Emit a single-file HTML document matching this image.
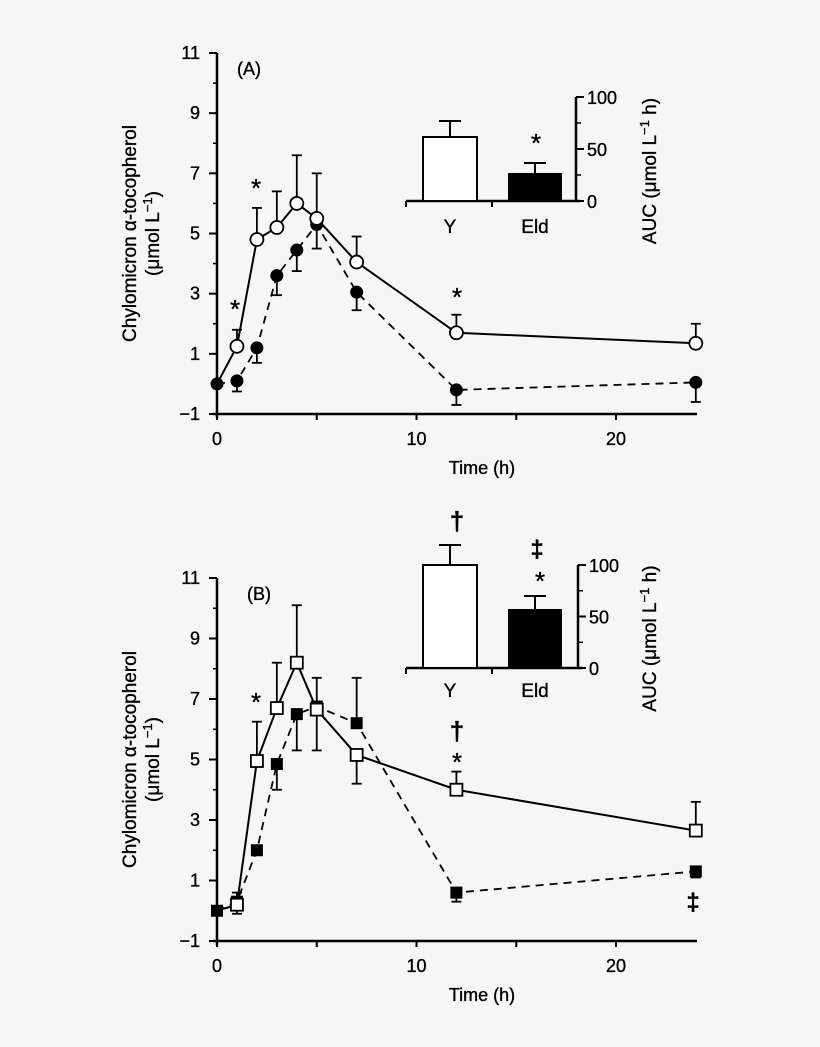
<!DOCTYPE html>
<html><head><meta charset="utf-8"><style>
html,body{margin:0;padding:0;background:#f6f6f6;}
svg{display:block;font-family:"Liberation Sans",Arial,sans-serif;}
text{stroke:#000;stroke-width:0.35;}
</style></head><body>
<svg id="s" width="820" height="1047" viewBox="0 0 820 1047" xmlns="http://www.w3.org/2000/svg"></svg>
<script>
const S=document.getElementById('s');let h='';
function L(x1,y1,x2,y2,w,d){h+=`<line x1="${x1}" y1="${y1}" x2="${x2}" y2="${y2}" stroke="#000" stroke-width="${w||2}" ${d?`stroke-dasharray="${d}"`:''}/>`;}
function T(x,y,t,sz,a,extra){h+=`<text x="${x}" y="${y}" font-size="${sz||18}" text-anchor="${a||'middle'}" ${extra||''}>${t}</text>`;}
function panel(y11,ym1,lab,open,filled,errO,errF,sq){
  const X=t=>217+t*19.95;
  const Yv=v=>ym1-(v+1)*(ym1-y11)/12;
  L(217,y11,217,ym1+4,2.5);L(213,ym1,697,ym1,2.5);
  for(let v=-1;v<=11;v+=2){L(209,Yv(v),217,Yv(v),2);T(200,Yv(v)+6,v==-1?'\u22121':v,18,'end');}
  for(let v=0;v<=11;v+=2){L(213,Yv(v),217,Yv(v),1.5);}
  [0,5,10,15,20].forEach(t=>L(X(t),ym1,X(t),ym1+6,2));
  [0,10,20].forEach(t=>T(X(t),ym1+31,t,18));
  T(482,ym1+60,'Time (h)',18);
  const cy=(y11+ym1)/2;
  h+=`<text transform="translate(136,${cy}) rotate(-90)" font-size="19" text-anchor="middle">Chylomicron α-tocopherol</text>`;
  h+=`<text transform="translate(159,${cy}) rotate(-90)" font-size="19" text-anchor="middle">(μmol L<tspan dy="-7" font-size="13">−1</tspan><tspan dy="7">)</tspan></text>`;
  T(lab[1],y11+22,lab[0],18,'start');
  const ts=[0,1,2,3,4,5,7,12,24];
  errO.forEach(([t,v,e])=>{L(X(t),Yv(v),X(t),Yv(e),1.8);L(X(t)-5,Yv(e),X(t)+5,Yv(e),1.8);});
  errF.forEach(([t,v,e])=>{L(X(t),Yv(v),X(t),Yv(e),1.8);L(X(t)-5,Yv(e),X(t)+5,Yv(e),1.8);});
  let p1=ts.map((t,i)=>X(t)+','+Yv(open[i])).join(' ');
  let p2=ts.map((t,i)=>X(t)+','+Yv(filled[i])).join(' ');
  h+=`<polyline points="${p2}" fill="none" stroke="#000" stroke-width="1.8" stroke-dasharray="8,6"/>`;
  h+=`<polyline points="${p1}" fill="none" stroke="#000" stroke-width="2"/>`;
  ts.forEach((t,i)=>{
    if(sq){h+=`<rect x="${X(t)-6}" y="${Yv(filled[i])-6}" width="12" height="12" fill="#000"/>`;
      if(i>0)h+=`<rect x="${X(t)-6}" y="${Yv(open[i])-6}" width="12" height="12" fill="#fff" stroke="#000" stroke-width="1.8"/>`;}
    else{h+=`<circle cx="${X(t)}" cy="${Yv(filled[i])}" r="6.5" fill="#000"/>`;
      if(i>0)h+=`<circle cx="${X(t)}" cy="${Yv(open[i])}" r="6.5" fill="#fff" stroke="#000" stroke-width="1.8"/>`;}
  });
}
function inset(ax,y0,y100,yTop,yErr,eTop,eErr,labY){
  L(ax,y100,ax,y0,2.5);L(406,y0,ax+4,y0,2.5);
  L(406,y0,406,y0+6,2);L(492,y0,492,y0+6,2);
  [0,50,100].forEach(v=>{const y=y0-(y0-y100)*v/100;L(ax,y,ax+8,y,2);T(ax+11,y+7,v,18,'start');});
  [25,75].forEach(v=>{const y=y0-(y0-y100)*v/100;L(ax,y,ax+5,y,1.5);});
  h+=`<rect x="423" y="${yTop}" width="54" height="${y0-yTop}" fill="#fff" stroke="#000" stroke-width="2"/>`;
  L(450,yTop,450,yErr,2);L(439,yErr,461,yErr,2);
  h+=`<rect x="508" y="${eTop}" width="54" height="${y0-eTop}" fill="#000"/>`;
  L(535,eTop,535,eErr,2);L(524,eErr,546,eErr,2);
  T(450,labY,'Y',19);T(535,labY,'Eld',19);
  h+=`<text transform="translate(656,${(y0+y100)/2+22}) rotate(-90)" font-size="19" text-anchor="middle">AUC (μmol L<tspan dy="-7" font-size="13">−1</tspan><tspan dy="7"> h)</tspan></text>`;
}
panel(53,414,['(A)',237],
 [0,1.25,4.8,5.2,6.0,5.5,4.05,1.7,1.35],
 [0,0.1,1.2,3.6,4.45,5.3,3.05,-0.2,0.05],
 [[1,1.25,1.8],[2,4.8,5.85],[3,5.2,6.4],[4,6.0,7.6],[5,5.5,7.0],[7,4.05,4.9],[12,1.7,2.3],[24,1.35,2.0]],
 [[1,0.1,-0.25],[2,1.2,0.7],[3,3.6,2.95],[4,4.45,3.75],[5,5.3,4.5],[7,3.05,2.45],[12,-0.2,-0.7],[24,0.05,-0.6]],false);
T(235,318,'*',26);T(256,197,'*',26);T(457,306,'*',26);T(536,152,'*',26);
inset(576,201,97,137,121,173,163,233);
panel(578,941,['(B)',247],
 [0,0.2,4.95,6.7,8.2,6.65,5.15,4.0,2.65],
 [0,0.3,2.0,4.85,6.5,6.75,6.2,0.6,1.3],
 [[1,0.2,0.6],[2,4.95,6.25],[3,6.7,8.2],[4,8.2,10.1],[5,6.65,5.3],[7,5.15,4.2],[12,4.0,4.6],[24,2.65,3.6]],
 [[1,0.3,-0.1],[3,4.85,4.0],[4,6.5,5.3],[5,6.75,7.7],[7,6.2,7.7],[12,0.6,0.3],[24,1.3,1.1]],true);
T(256,711,'*',26);T(457,771,'*',26);
T(457,740,'†',26,'middle','font-weight="bold"');
T(693,910,'‡',24,'middle','font-weight="bold"');
inset(578,668,565,565,545,609,596,697);
T(457,530,'†',26,'middle','font-weight="bold"');
T(537,557,'‡',24,'middle','font-weight="bold"');
T(540,590,'*',26);
S.innerHTML=h;
</script>
</body></html>
